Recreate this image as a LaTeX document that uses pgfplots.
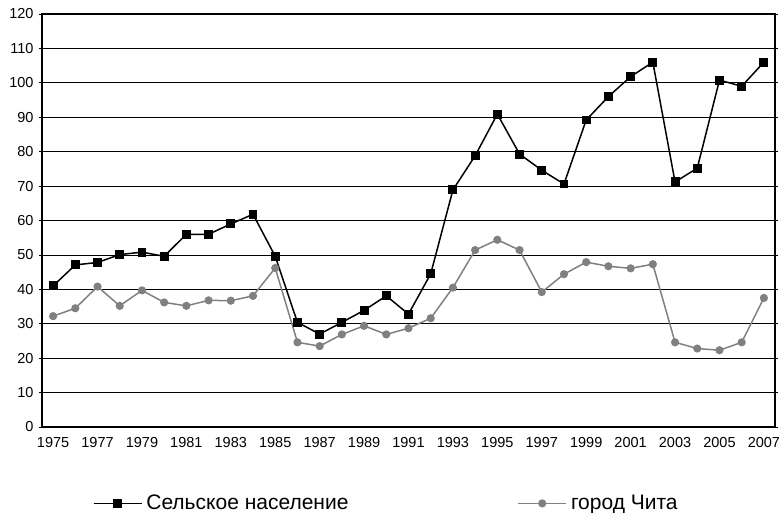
\documentclass[border=0pt]{standalone}
\usepackage{fontspec}
\setmainfont{Liberation Sans}
\usepackage{pgfplots}
\pgfplotsset{compat=1.18}
\usepackage{pgfplotstable}
\pgfplotstableread{
year rural chita
1975 41.0 32.2
1976 47.1 34.5
1977 47.8 40.8
1978 50.1 35.2
1979 50.8 39.7
1980 49.6 36.2
1981 56.0 35.2
1982 56.0 36.8
1983 59.0 36.7
1984 61.8 38.1
1985 49.6 46.2
1986 30.4 24.6
1987 27.0 23.5
1988 30.4 26.9
1989 33.9 29.4
1990 38.1 26.9
1991 32.8 28.7
1992 44.5 31.6
1993 68.9 40.5
1994 78.8 51.4
1995 90.9 54.4
1996 79.3 51.4
1997 74.6 39.2
1998 70.6 44.4
1999 89.2 47.9
2000 96.0 46.7
2001 101.8 46.1
2002 106.0 47.3
2003 71.2 24.6
2004 75.2 22.8
2005 100.8 22.3
2006 99.0 24.6
2007 106.0 37.5
}\datatable
\definecolor{grayline}{RGB}{128,128,128}
\begin{document}
\begin{tikzpicture}
\begin{axis}[
  name=main,
  scale only axis,
  width=733pt, height=413pt,
  xmin=1974.5, xmax=2007.5,
  ymin=0, ymax=120,
  ytick={0,10,...,120},
  xtick={1975,1977,...,2007},
  minor xtick={1974.5,1975.5,...,2007.5},
  xticklabel style={/pgf/number format/1000 sep={}},
  /pgf/number format/assume math mode=true,
  tick label style={font=\fontsize{14.5}{14.5}\selectfont},
  ymajorgrids,
  grid style={black, line width=0.7pt},
  axis line style={black, line width=1.4pt},
  tick align=center,
  major tick length=6pt,
  minor tick length=7pt,
  xtick style={draw=none},
  minor x tick style={black, line width=0.8pt},
  ytick style={black, line width=0.8pt},
  xticklabel shift=4pt,
  yticklabel shift=2pt,
  legend columns=2,
  legend style={draw=none, fill=none, at={(rel axis cs:0.065,-0.185)}, anchor=west,
    font=\fontsize{21}{21}\selectfont,
    /tikz/every odd column/.append style={column sep=2pt},
    /tikz/every even column/.append style={column sep=167pt}},
  legend image code/.code={\draw[mark repeat=2,mark phase=2,#1] plot coordinates {(0pt,0pt) (24pt,0pt) (48pt,0pt)};},
]
\addplot[black, line width=1.5pt, mark=square*, mark size=3.7pt, mark options={solid}] table[x=year, y=rural] {\datatable};
\addlegendentry{Сельское население}
\addplot[grayline, line width=1.5pt, mark=*, mark size=3.3pt] table[x=year, y=chita] {\datatable};
\addlegendentry{город Чита}
\end{axis}
\pgfresetboundingbox
\path[use as bounding box] (main.south west) ++(-42pt,-86pt) rectangle ([xshift=6pt,yshift=14pt]main.north east);
\end{tikzpicture}
\end{document}
